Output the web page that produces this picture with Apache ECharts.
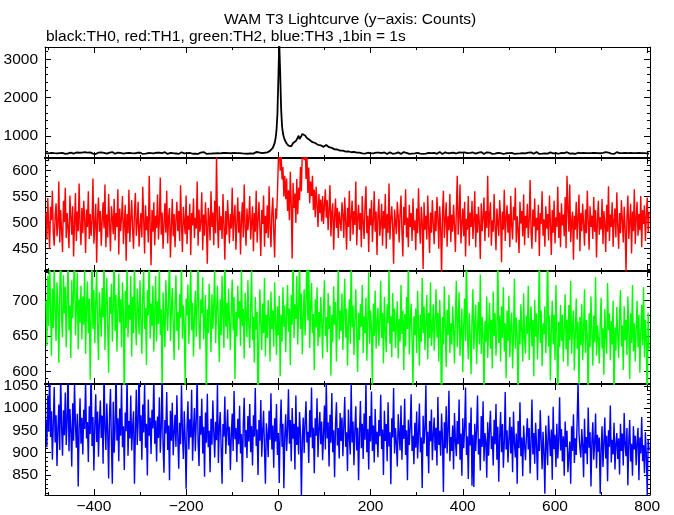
<!DOCTYPE html>
<html><head><meta charset="utf-8">
<script src="https://cdn.jsdelivr.net/npm/echarts@6/dist/echarts.min.js"></script>
<style>html,body{margin:0;padding:0;background:#fff}#main{width:674px;height:515px}</style>
</head><body><div id="main"></div>
<script>
const titleText = 'WAM T3 Lightcurve (y\u2212axis: Counts)';
const subtitleText = 'black:TH0, red:TH1, green:TH2, blue:TH3 ,1bin = 1s';
// time of first listed sample (s) and spacing of the listed samples (s)
const tStart = -504;
const binSec = 2;

// TH0 counts (black)
const th0 = [
548,531,559,542,566,537,552,524,561,545,533,570,540,556,528,549,563,535,553,541,
558,529,546,567,538,551,522,560,543,572,536,550,527,564,544,532,557,547,525,562,
539,554,571,530,548,559,526,543,565,537,552,534,568,545,523,556,541,563,531,550,
566,540,528,555,547,569,533,551,538,561,524,546,574,542,557,530,549,535,562,544,
527,553,543,567,536,558,521,548,564,539,555,532,560,545,529,571,540,552,534,557,
548,530,563,541,555,526,569,544,537,559,533,550,575,538,547,524,561,543,554,536,
562,545,528,557,539,566,549,531,553,572,535,546,527,560,541,556,534,568,546,529,
551,538,564,543,525,558,547,570,532,554,540,562,529,548,567,536,552,544,573,531,
546,559,533,550,568,527,555,541,563,536,549,576,539,557,528,545,565,534,551,560,
537,554,572,542,529,561,548,535,566,543,558,525,551,569,540,556,532,563,547,538,
559,544,530,567,551,538,574,546,533,562,549,528,557,541,570,552,536,564,545,531,
556,571,539,550,563,534,558,545,577,541,553,566,537,561,548,579,544,557,570,552,
568,581,594,606,622,648,684,735,810,930,1140,1560,2480,3420,2650,1720,1260,1060,960,890,
840,800,770,742,715,698,724,768,812,836,808,862,895,948,1002,915,940,995,1048,1085,
1052,1008,981,941,930,897,889,862,860,833,834,808,812,786,790,763,766,742,751,726,
735,711,738,742,760,731,729,702,705,680,684,660,667,645,655,634,642,621,633,612,
616,603,611,597,604,589,598,582,591,578,586,570,580,566,577,561,572,558,569,553,
562,548,567,541,559,553,536,564,545,557,530,561,549,538,566,543,555,527,560,546,
535,558,542,569,547,531,556,564,539,551,524,560,545,572,537,553,529,562,548,541,
557,533,566,544,550,527,561,539,574,546,532,555,543,568,528,552,565,536,549,559,
540,563,529,554,547,571,534,558,545,526,562,550,537,567,542,555,531,560,548,573,
536,552,566,541,530,557,549,575,538,553,525,561,546,569,533,556,544,528,563,551,
547,534,560,543,572,537,554,529,565,548,540,558,523,551,567,539,556,545,531,562,
553,541,527,564,549,570,535,557,544,561,532,548,576,540,555,526,559,547,568,538,
550,563,537,555,528,561,546,533,571,542,556,530,565,549,538,559,524,553,567,544,
531,558,548,566,539,552,577,543,529,560,547,535,569,554,541,563,532,550,545,572,
539,556,528,562,549,536,568,545,557,530,564,551,578,542,555,527,560,546,533,566,
552,540,571,547,534,559,544,565,529,554,541,568,537,550,575,545,531,562,548,556,
536,563,549,527,558,572,541,555,534,567,546,538,561,552,529,570,543,557,535,560,
548,532,566,553,540,574,545,528,559,547,563,536,551,579,541,556,530,565,549,537,
561,544,529,568,552,538,556,573,542,531,560,548,567,535,553,546,526,562,550,571,
539,557,545,532,566,550,576,541,555,528,563,547,534,569,552,540,561,546,530,558,
547,565,536,553,541,572,545,529,560,549,538,567,543,556,533
];

// TH1 counts (red)
const th1 = [
518,467,547,492,449,530,504,561,480,455,513,537,473,497,579,461,524,485,443,542,
501,567,470,518,489,450,552,512,476,531,434,498,557,464,521,483,575,495,456,528,
479,542,507,441,525,491,560,468,516,474,503,585,459,494,536,422,510,548,482,522,
455,504,539,488,573,452,515,471,555,498,444,531,509,477,545,465,518,491,564,438,
527,483,510,551,458,497,534,426,516,479,563,462,506,543,486,449,522,557,474,500,
540,453,492,518,471,569,504,440,533,485,512,461,590,495,417,524,482,539,456,513,
489,554,467,503,587,476,519,449,498,537,480,561,459,509,528,432,491,545,473,516,
452,506,540,483,522,464,572,495,443,530,501,477,552,458,513,486,536,437,518,494,
546,470,509,488,579,455,525,482,501,558,446,515,474,539,497,420,528,507,465,560,
491,519,456,542,479,630,503,450,531,485,512,468,555,494,428,522,476,543,504,459,
516,488,567,464,510,534,447,497,548,480,521,438,504,539,471,573,492,455,527,485,
509,551,467,498,531,444,518,482,561,461,504,540,488,435,524,497,552,453,513,479,
533,470,570,492,452,519,548,483,432,527,506,554,619,650,600,635,583,607,550,590,
545,585,522,562,504,598,535,430,576,528,556,499,584,516,567,543,607,560,640,660,
620,670,584,635,557,606,537,579,551,590,524,563,510,569,534,491,555,518,544,502,
551,497,534,564,509,543,485,525,572,473,518,537,447,510,546,489,528,470,521,503,
483,539,516,470,548,503,447,528,491,561,464,512,542,476,522,495,579,456,507,534,
486,518,452,551,500,468,531,570,479,513,443,527,494,543,462,504,560,482,521,437,
512,545,474,498,536,455,522,488,555,449,516,480,575,467,506,531,489,420,525,501,
477,540,512,461,518,552,483,434,530,495,564,471,509,452,534,491,518,464,546,485,
504,446,527,479,566,495,459,530,503,410,539,486,513,467,552,492,441,519,480,543,
497,458,522,483,549,510,449,531,491,400,518,561,470,504,539,453,512,485,555,462,
515,482,534,495,443,522,590,476,509,573,459,498,527,473,540,434,507,486,551,455,
519,491,542,468,503,560,452,516,480,530,497,429,537,483,510,548,464,522,489,590,
471,513,539,455,504,482,555,492,446,527,500,474,543,510,423,521,486,563,464,507,
533,480,516,452,551,494,467,530,504,567,461,512,485,441,540,498,522,473,554,456,
513,489,536,470,503,582,482,449,525,492,546,462,509,485,534,435,518,497,560,474,
506,453,531,488,516,465,552,498,437,524,480,542,459,510,491,569,470,519,452,537,
494,515,473,549,450,590,530,482,573,462,501,521,428,513,486,540,467,509,554,444,
518,483,536,497,455,525,479,561,503,447,531,491,513,468,549,482,524,432,504,542,
476,510,486,545,458,522,498,443,534,482,570,464,515,491,539,453,504,527,471,558,
495,449,518,479,543,504,461,530,489,405,512,552,468,501,536,440,521,483,564,458,
507,540,474,516,485,551,452,524,497,533,464,513,548,480,519
];

// TH2 counts (green)
const th2 = [
700,636,735,664,768,690,622,717,661,750,684,643,726,693,612,709,775,672,648,736,
682,720,634,700,756,658,693,619,729,675,711,778,651,688,739,631,702,669,721,645,
706,666,747,625,690,727,654,703,588,679,771,660,715,640,696,744,664,616,712,684,
649,718,676,760,630,697,732,663,598,705,681,724,642,691,775,657,708,628,685,738,
669,702,634,726,682,543,714,661,751,648,694,673,735,621,705,654,763,679,637,717,
688,652,729,672,625,706,742,660,690,609,715,679,771,646,696,664,721,628,682,735,
642,699,667,750,651,688,571,712,675,634,729,691,657,705,768,643,684,718,666,616,
700,736,657,684,630,709,675,757,646,693,666,580,703,679,723,639,690,745,658,697,
621,676,714,649,696,766,663,631,702,682,733,645,670,708,546,688,654,724,676,627,
709,660,693,748,640,684,721,667,613,702,651,735,679,633,772,663,697,646,717,672,
630,691,730,658,705,589,684,649,721,675,699,636,747,664,688,618,711,682,648,729,
666,633,693,743,644,677,612,705,659,684,530,650,716,668,630,696,654,732,621,680,
647,701,675,614,713,660,686,635,726,671,623,692,651,707,593,680,642,719,663,693,
627,681,722,656,689,609,708,666,765,647,695,674,735,638,686,758,660,710,624,678,
716,651,698,765,672,764,633,690,725,654,681,602,702,662,719,636,684,648,705,671,
618,689,729,650,677,627,711,660,693,594,680,641,720,666,698,614,674,755,645,686,
657,710,630,681,731,648,689,608,669,702,639,762,662,693,623,675,716,651,599,683,
644,695,663,722,626,678,654,704,615,672,740,639,686,659,575,696,650,714,632,669,
690,636,672,728,647,683,611,705,659,627,695,668,746,639,678,620,711,656,689,633,
665,699,618,674,642,722,653,686,602,681,635,705,660,758,624,671,696,644,580,678,
651,689,626,714,663,608,680,642,732,654,692,630,669,708,617,683,647,726,636,660,
695,629,672,716,648,683,614,701,657,530,677,638,720,665,606,687,651,708,626,668,
638,692,661,611,679,728,634,671,712,622,655,689,599,665,703,643,772,653,617,682,
649,596,674,716,631,665,694,610,658,698,638,737,625,677,652,563,671,641,706,619,
661,697,632,673,604,713,650,682,622,656,763,640,679,614,692,647,719,628,668,590,
686,643,707,620,664,683,604,653,731,632,676,650,556,673,638,695,656,614,710,646,
625,679,653,721,616,665,692,635,673,593,701,649,682,617,661,772,640,686,607,668,
652,692,626,671,776,635,679,587,659,700,638,680,616,722,656,545,670,634,694,643,
680,614,662,709,631,673,607,694,644,728,625,665,686,601,653,703,632,670,575,677,
637,695,616,659,716,626,673,650,554,682,634,706,655,608,679,641,733,622,665,647,
611,668,704,632,661,595,688,649,625,725,658,682,616,671,638,700,551,662,629,691,
652,619,679,715,635,665,602,692,644,673,623,706,656,589,682,640,722,628,668,614,
661,700,634,680,598,656,694,637,719,620,673,647,548,683,632
];

// TH3 counts (blue)
const th3 = [
974,912,1028,947,1097,935,993,884,966,1047,923,984,870,953,1008,906,1076,959,893,995,
939,1035,917,971,1097,903,998,951,869,1011,927,1055,963,911,987,824,954,1022,920,978,
896,996,953,1064,932,969,879,1004,942,1097,915,980,860,960,1031,924,992,891,968,1017,
933,983,875,1091,956,906,1010,944,842,987,1043,921,830,1014,900,953,1097,927,977,881,
999,938,1052,912,959,861,990,948,1074,893,971,932,1028,905,957,993,830,945,1041,917,
968,1097,926,984,884,1008,945,1056,911,965,849,1019,938,978,897,996,954,1070,920,972,
880,981,933,1024,900,954,1089,921,855,973,943,1036,906,961,838,994,927,1012,894,945,
985,913,1029,936,864,967,919,1051,949,886,993,930,819,957,1015,907,975,934,1041,882,
951,1000,903,972,1071,924,870,982,940,1021,898,958,846,990,922,1032,912,949,856,976,
918,1017,945,889,969,928,1054,877,957,991,910,830,964,936,1026,897,948,997,916,958,
861,939,988,904,1038,930,955,879,976,919,1005,898,942,834,963,1023,912,951,888,982,
925,1009,901,960,871,984,936,1045,915,952,850,973,927,1018,891,945,994,907,830,966,
940,890,994,929,1033,907,961,866,977,925,1009,895,944,832,955,1019,913,965,820,937,
986,904,953,1042,920,973,881,1000,931,965,862,1028,917,958,896,991,944,800,928,979,
899,967,1015,923,947,877,995,934,1046,910,956,854,977,938,1022,890,952,991,919,970,
883,941,1006,907,1060,932,968,869,985,922,1034,901,950,845,964,1013,916,955,887,989,
926,979,892,959,1025,913,946,859,997,935,896,1054,923,970,872,952,1004,905,956,838,
944,1016,910,965,886,988,929,1060,901,953,862,982,925,1037,904,961,878,998,919,947,
890,973,937,1030,908,952,850,994,926,964,881,1013,914,946,829,977,934,1045,898,955,
922,869,986,941,905,1006,884,962,931,1021,895,950,838,974,917,958,1031,904,938,874,
967,911,992,887,943,1010,901,934,821,983,920,955,1051,892,947,854,971,925,997,883,
940,979,905,956,871,1025,917,949,893,988,929,812,968,910,1004,898,952,1039,881,935,
904,961,863,989,928,892,971,919,1019,884,943,848,977,910,956,1046,895,937,841,967,
916,1001,826,940,823,965,904,952,1028,896,931,860,982,913,1015,881,944,925,844,968,
893,952,994,908,937,871,974,919,1009,884,958,835,935,991,901,964,866,923,1036,907,
950,878,929,980,898,958,856,992,922,889,943,830,971,910,1013,892,934,847,961,917,
883,938,977,907,955,853,923,1019,896,944,875,967,916,838,953,904,995,926,863,947,
899,808,961,919,872,983,932,892,952,839,1003,908,940,868,965,887,929,1024,905,953,
880,937,848,970,913,949,856,893,925,830,959,904,986,877,932,895,971,1060,943,910,
889,953,917,845,976,898,935,874,1001,911,946,824,926,968,884,920,988,865,940,902,
934,808,907,959,868,922,979,887,938,836,950,913,1006,878,929,896,967,862,919,944,
886,932,851,965,904,943,871,989,916,892,955,827,926,973,880,920,848,959,907,938,
872,925,956,838,934,898,980,881,917,854,946,893,805,929,905
];

// tick values
const xMajorTicks = [-400, -200, 0, 200, 400, 600, 800];
const xMinorTicks = [-500, -300, -100, 100, 300, 500, 700];
const th0MajorTicks = [1000, 2000, 3000];
const th1MajorTicks = [450, 500, 550, 600];
const th2MajorTicks = [600, 650, 700];
const th3MajorTicks = [850, 900, 950, 1000, 1050];

function minorTicks(lo, hi, step, majors) {
  const out = [];
  for (let v = lo; v <= hi; v += step) if (majors.indexOf(v) < 0) out.push(v);
  return out;
}

const panels = [
  {values: th0, color: '#000000', lw: 1.8, min: 420, max: 3320, major: th0MajorTicks, minor: minorTicks(600, 3200, 200, th0MajorTicks), top: 47, height: 111},
  {values: th1, color: '#ff0000', lw: 1.4, min: 406, max: 624.5, major: th1MajorTicks, minor: minorTicks(410, 620, 10, th1MajorTicks), top: 158, height: 113},
  {values: th2, color: '#00ff00', lw: 1.4, min: 582, max: 742, major: th2MajorTicks, minor: minorTicks(590, 740, 10, th2MajorTicks), top: 271, height: 113},
  {values: th3, color: '#0000ff', lw: 1.4, min: 805, max: 1054, major: th3MajorTicks, minor: minorTicks(810, 1050, 10, th3MajorTicks), top: 384, height: 112}
];

const FONT = '"Liberation Sans", Arial, Helvetica, sans-serif';
const FS = 15.5;
const X_MIN = -506, X_MAX = 806;
const minusFmt = v => String(v).replace('-', '\u2212');

function axisDef(k, pos, ticks, len, lineW, withLabels, min, max, margin) {
  return {
    type: 'value', gridIndex: k, position: pos, min: min, max: max, scale: true,
    axisLine: {show: lineW > 0, onZero: false, lineStyle: {color: '#000', width: lineW || 1}},
    axisTick: {show: true, inside: true, length: len, customValues: ticks, lineStyle: {color: '#000', width: 1}},
    axisLabel: {show: withLabels, customValues: ticks, margin: margin, color: '#000',
      fontFamily: FONT, fontSize: FS, formatter: minusFmt},
    splitLine: {show: false}, minorTick: {show: false}, splitArea: {show: false},
    axisPointer: {show: false}
  };
}

const grids = [], xAxes = [], yAxes = [], series = [];
panels.forEach((p, k) => {
  grids.push({left: 45, width: 605, top: p.top, height: p.height, containLabel: false});
  const bottomW = k < 3 ? 2 : 1;
  const topW = k > 0 ? 2 : 1;
  xAxes.push(axisDef(k, 'bottom', xMajorTicks, 6, bottomW, k === 3, X_MIN, X_MAX, 4));
  xAxes.push(axisDef(k, 'bottom', xMinorTicks, 3, 0, false, X_MIN, X_MAX, 4));
  xAxes.push(axisDef(k, 'top', xMajorTicks, 6, topW, false, X_MIN, X_MAX, 4));
  xAxes.push(axisDef(k, 'top', xMinorTicks, 3, 0, false, X_MIN, X_MAX, 4));
  yAxes.push(axisDef(k, 'left', p.major, 6, 1, true, p.min, p.max, 7));
  yAxes.push(axisDef(k, 'left', p.minor, 3, 0, false, p.min, p.max, 7));
  yAxes.push(axisDef(k, 'right', p.major, 6, 1, false, p.min, p.max, 7));
  yAxes.push(axisDef(k, 'right', p.minor, 3, 0, false, p.min, p.max, 7));
  series.push({
    type: 'line', xAxisIndex: k * 4, yAxisIndex: k * 4,
    data: p.values.map((v, i) => [tStart + i * binSec, v]),
    showSymbol: false, symbol: 'none', clip: true, silent: true,
    color: p.color, lineStyle: {color: p.color, width: p.lw}, z: 2
  });
});

const chart = echarts.init(document.getElementById('main'), null, {renderer: 'canvas'});
chart.setOption({
  animation: false,
  backgroundColor: '#ffffff',
  grid: grids,
  xAxis: xAxes,
  yAxis: yAxes,
  series: series,
  graphic: [
    {type: 'text', x: 350, y: 19.5, silent: true,
     style: {text: titleText, fill: '#000', fontFamily: FONT, fontSize: FS,
             align: 'center', verticalAlign: 'middle', textAlign: 'center', textVerticalAlign: 'middle'}},
    {type: 'text', x: 46, y: 36.7, silent: true,
     style: {text: subtitleText, fill: '#000', fontFamily: FONT, fontSize: FS,
             align: 'left', verticalAlign: 'middle', textAlign: 'left', textVerticalAlign: 'middle'}}
  ]
});
</script>
</body></html>
